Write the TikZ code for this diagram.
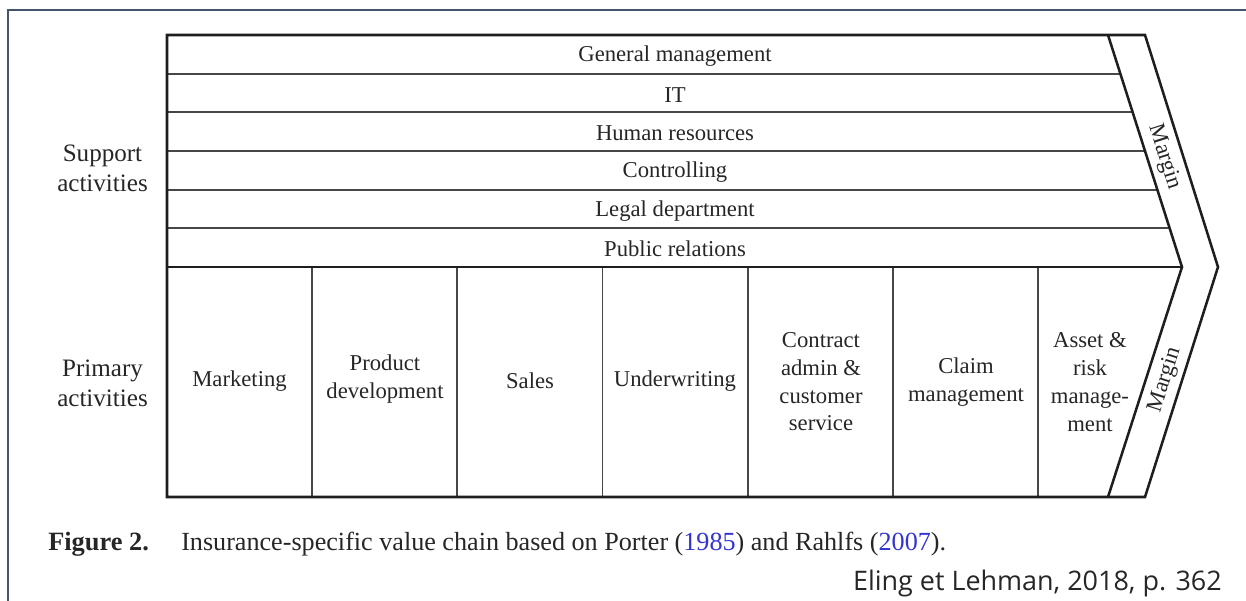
\documentclass[tikz,border=0pt]{standalone}
\usepackage{fontspec}
\setmainfont{Liberation Serif}
\newfontfamily\uifont{Open Sans}
\definecolor{framec}{HTML}{44546A}
\definecolor{inkc}{HTML}{262626}
\definecolor{linec}{HTML}{1E1E1E}
\definecolor{rowc}{HTML}{474747}
\definecolor{citec}{HTML}{3434D0}
\tikzset{
  lbl/.style={text=inkc, font=\fontsize{17}{20.8}\selectfont, align=center, inner sep=0pt},
  sidelbl/.style={text=inkc, font=\fontsize{18.8}{22.5}\selectfont, align=center, inner sep=0pt},
  outerline/.style={draw=linec, line width=1.9pt, line join=miter},
  rowline/.style={draw=rowc, line width=1.3pt},
  colline/.style={draw=rowc, line width=1.3pt},
}
\begin{document}
\begin{tikzpicture}[x=0.75pt,y=-0.75pt]
\useasboundingbox (0,0) rectangle (1246,600);
\clip (0,0) rectangle (1246,600);
% outer page frame (cropped)
\draw[framec, line width=1.6pt] (8,620) -- (8,10) -- (1270,10);

% key coordinates
\coordinate (tl) at (167,35);
\coordinate (tin) at (1108,35);
\coordinate (tout) at (1145,35);
\coordinate (pin) at (1182,267);
\coordinate (pout) at (1218,267);
\coordinate (bl) at (167,497);
\coordinate (bin) at (1108,497);
\coordinate (bout) at (1145,497);
\coordinate (ml) at (167,267);

% support row lines
\foreach \k in {1,...,5}{
  \pgfmathsetmacro{\yy}{35+38.67*\k}
  \pgfmathsetmacro{\xx}{1108+(\yy-35)*74/232}
  \draw[rowline] (167,\yy) -- (\xx,\yy);
}
% column lines
\foreach \k in {1,...,6}{
  \pgfmathsetmacro{\xx}{167+145.17*\k}
  \draw[colline] (\xx,267) -- (\xx,497);
}
% primary/support divider
\draw[outerline] (ml) -- (pin);
% inner slant
\draw[outerline] (tin) -- (pin) -- (bin);
% outer chain shape
\draw[outerline] (tl) -- (tout) -- (pout) -- (bout) -- (bl) -- cycle;

% support activities
\node[lbl] (gm) at (675,56) {General management};
\node[lbl] (it) at (675,95) {IT};
\node[lbl] (hr) at (675,133) {Human resources};
\node[lbl] (ctl) at (675,172) {Controlling};
\node[lbl] (leg) at (675,211) {Legal department};
\node[lbl] (pr) at (675,249) {Public relations};

% left labels
\node[sidelbl] (sup) at (102.5,168) {Support\\activities};
\node[sidelbl] (pri) at (102.5,383) {Primary\\activities};

% primary activities
\node[lbl] (mkt) at (239.5,381) {Marketing};
\node[lbl] (pd) at (385,379) {Product\\development};
\node[lbl] (sal) at (530,381) {Sales};
\node[lbl] (uw) at (675,381) {Underwriting};
\node[lbl] (cac) at (821,382) {Contract\\admin \&\\customer\\service};
\node[lbl] (cm) at (966,382) {Claim\\management};
\node[lbl] (arm) at (1090,382) {Asset \&\\risk\\manage-\\ment};

% margin labels
\node[lbl, rotate=-72.3] (m1) at (1164,157) {Margin};
\node[lbl, rotate=72.3] (m2) at (1165,380) {Margin};

% caption
\node[anchor=base west, inner sep=0pt, text=inkc, font=\fontsize{19.8}{24}\bfseries\selectfont] (fig) at (48,550) {Figure 2.};
\node[anchor=base west, inner sep=0pt, text=inkc, font=\fontsize{19.6}{24}\selectfont] (cap) at (181,550) {Insurance-specific value chain based on Porter (\textcolor{citec}{1985}) and Rahlfs (\textcolor{citec}{2007}).};
\node[anchor=base east, inner sep=0pt, text=inkc, font=\uifont\fontsize{20.2}{24}\selectfont] (src) at (1222,590) {Eling et Lehman, 2018, p. 362};
\end{tikzpicture}
\end{document}
